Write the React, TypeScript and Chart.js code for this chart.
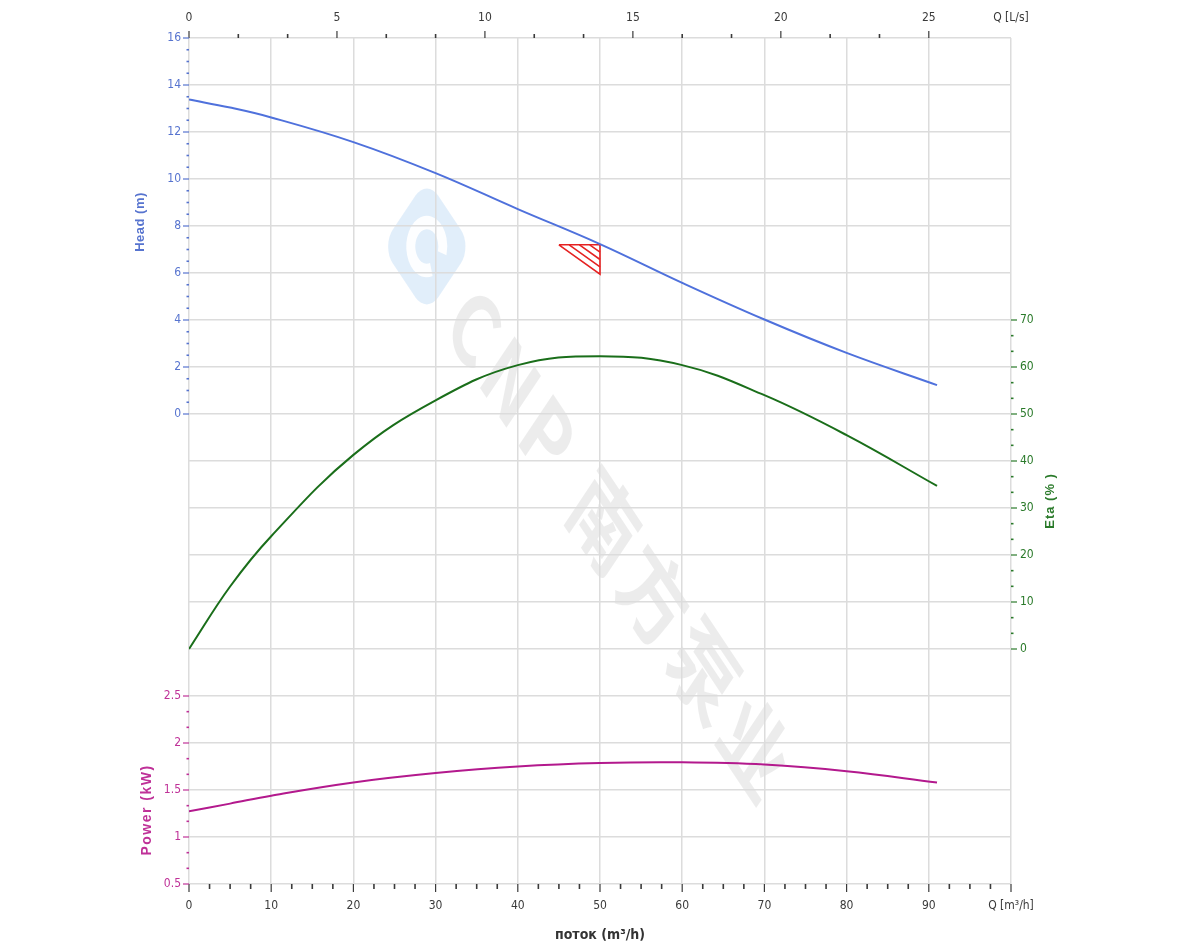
import React, { useEffect, useRef } from 'react';
import { Chart, registerables } from 'chart.js';

Chart.register(...registerables);

// ---------------- data ----------------
const flowQ = [0, 5, 10, 20, 30, 40, 50, 60, 70, 80, 91]; // m³/h
const headM = [13.38, 13.04, 12.62, 11.57, 10.25, 8.72, 7.23, 5.58, 4.02, 2.6, 1.23];
const etaPct = [0, 13.3, 24.0, 41.3, 52.9, 60.4, 62.3, 60.4, 54.0, 45.5, 34.7];
const powerKW = [1.273, 1.355, 1.44, 1.58, 1.68, 1.75, 1.787, 1.794, 1.77, 1.7, 1.58];

// duty-point triangle (flow span, head span)
const dutyFlow = [45, 50];
const dutyHead = [5.95, 7.2];
const dutyHatch = [0.25, 0.5, 0.75];

// tick labels
const flowLabelsM3h = [0, 10, 20, 30, 40, 50, 60, 70, 80, 90];
const flowLabelsLs = [0, 5, 10, 15, 20, 25];
const headLabels = [0, 2, 4, 6, 8, 10, 12, 14, 16];
const etaLabels = [0, 10, 20, 30, 40, 50, 60, 70];
const powerLabels = [0.5, 1, 1.5, 2, 2.5];
const flowUnitLabel = 'Q [m³/h]';
const flowLsUnitLabel = 'Q [L/s]';
const xTitle = 'поток (m³/h)';
const headTitle = 'Head (m)';
const etaTitle = 'Eta (% )';
const powerTitle = 'Power (kW)';
const watermark = 'CNP 南方泵业';

// axis bounds
const X_MAX = 100;
const M3H_PER_LS = 3.6;
const HEAD_MIN = -20, HEAD_MAX = 16;
const ETA_MIN = -50, ETA_MAX = 130;
const POWER_MIN = 0.5, POWER_MAX = 9.5;

// ---------------- styles ----------------
const GRID = '#dcdcdc';
const HEAD_COLOR = '#4f71dc';
const HEAD_TEXT = '#5774cf';
const ETA_COLOR = '#1a6e1a';
const ETA_TEXT = '#2a7a2a';
const POWER_COLOR = '#b3198d';
const POWER_TEXT = '#bf3198';
const AXIS_TEXT = '#444';
const DUTY_COLOR = '#e52222';
const TICK_FONT = "'Liberation Sans Narrow', 'DejaVu Sans Condensed', 'Liberation Sans', sans-serif";
const TITLE_FONT = "'Liberation Sans', Arial, sans-serif";

type TickMeta = { value: number; label: string; grid: boolean; mark: 0 | 1 | 2; color: string };

function buildTicks(majors: number[], sub: number, grid: boolean, color: string, map = (v: number) => v): TickMeta[] {
  const out: TickMeta[] = [];
  majors.forEach((v, i) => {
    out.push({ value: map(v), label: String(v), grid, mark: 2, color });
    if (i < majors.length - 1) {
      const next = majors[i + 1];
      for (let k = 1; k < sub; k++) {
        out.push({ value: map(v + ((next - v) * k) / sub), label: '', grid: false, mark: 1, color });
      }
    }
  });
  return out;
}

// power values expressed on the (shared, full-height) left head scale
const powerToHead = (p: number) =>
  HEAD_MIN + ((p - POWER_MIN) / (POWER_MAX - POWER_MIN)) * (HEAD_MAX - HEAD_MIN);

const xMeta: TickMeta[] = buildTicks([...flowLabelsM3h, X_MAX], 4, true, '#3a3a3a').map((t) =>
  t.value === X_MAX ? { ...t, label: flowUnitLabel } : t
);
const xTopMeta: TickMeta[] = [
  ...buildTicks(flowLabelsLs, 3, false, '#3a3a3a'),
  { value: X_MAX / M3H_PER_LS, label: flowLsUnitLabel, grid: false, mark: 0, color: '#3a3a3a' },
];
const leftMeta: TickMeta[] = [];
const powerTicks = buildTicks(powerLabels, 3, false, POWER_TEXT, powerToHead);
for (let v = HEAD_MIN; v < headLabels[0]; v += 2) leftMeta.push({ value: v, label: '', grid: true, mark: 0, color: HEAD_TEXT });
powerTicks.forEach((t) => {
  const same = leftMeta.find((m) => Math.abs(m.value - t.value) < 1e-9);
  if (same) Object.assign(same, { label: t.label, mark: t.mark, color: t.color });
  else leftMeta.push(t);
});
leftMeta.push(...buildTicks(headLabels, 4, true, HEAD_TEXT));
leftMeta.sort((a, b) => a.value - b.value);
const etaMeta: TickMeta[] = buildTicks(etaLabels, 3, false, ETA_TEXT);

const metaById: Record<string, TickMeta[]> = {
  x: xMeta,
  xTop: xTopMeta,
  yHead: leftMeta,
  yEta: etaMeta,
};

const markSpec: Record<string, { side: string; major: number; minor: number }> = {
  x: { side: 'bottom', major: 8, minor: 5 },
  xTop: { side: 'top', major: 7, minor: 4 },
  yHead: { side: 'left', major: 6, minor: 2.5 },
  yEta: { side: 'right', major: 6, minor: 2.5 },
};

const pts = (ys: number[]) => flowQ.map((q, i) => ({ x: q, y: ys[i] }));

const trianglePts = [
  { x: dutyFlow[0], y: dutyHead[1] },
  { x: dutyFlow[1], y: dutyHead[1] },
  { x: dutyFlow[1], y: dutyHead[0] },
  { x: dutyFlow[0], y: dutyHead[1] },
];
const hatchPts: any[] = [];
dutyHatch.forEach((f) => {
  hatchPts.push({ x: dutyFlow[0] + f * (dutyFlow[1] - dutyFlow[0]), y: dutyHead[1] });
  hatchPts.push({ x: dutyFlow[1], y: dutyHead[1] - (1 - f) * (dutyHead[1] - dutyHead[0]) });
  hatchPts.push({ x: dutyFlow[1], y: null });
});

const AXIS_SIZE: Record<string, number> = { x: 40, xTop: 36, yHead: 50, yEta: 50 };

function scaleFor(id: string, extra: any) {
  const meta = metaById[id];
  const vertical = id.startsWith('y');
  return {
    type: 'linear',
    afterBuildTicks: (axis: any) => {
      axis.ticks = meta.map((m) => ({ value: m.value }));
    },
    afterFit: (axis: any) => {
      if (vertical) axis.width = AXIS_SIZE[id];
      else axis.height = AXIS_SIZE[id];
    },
    border: { display: false },
    ...extra,
    ticks: {
      autoSkip: false,
      maxRotation: 0,
      minRotation: 0,
      callback: (_v: any, i: number) => (meta[i] ? meta[i].label : ''),
      color: (ctx: any) => (meta[ctx.index] ? meta[ctx.index].color : AXIS_TEXT),
      ...extra.ticks,
    },
    grid: {
      drawTicks: false,
      lineWidth: 1.5,
      color: (ctx: any) => (meta[ctx.index] && meta[ctx.index].grid ? GRID : 'rgba(0,0,0,0)'),
      ...extra.grid,
    },
  };
}

function drawRotated(ctx: CanvasRenderingContext2D, text: string, x: number, y: number, font: string, color: string, spacing: string) {
  ctx.save();
  ctx.translate(x, y);
  ctx.rotate(-Math.PI / 2);
  ctx.font = font;
  ctx.fillStyle = color;
  (ctx as any).letterSpacing = spacing;
  ctx.textAlign = 'center';
  ctx.textBaseline = 'middle';
  ctx.fillText(text, 0, 0);
  ctx.restore();
}

const decorPlugin = {
  id: 'decor',
  beforeDraw(chart: any) {
    const ctx: CanvasRenderingContext2D = chart.ctx;
    const a = chart.chartArea;
    ctx.save();
    const cx = a.left + (a.right - a.left) * 0.525;
    const cy = a.top + (a.bottom - a.top) * 0.6;
    ctx.translate(cx, cy);
    ctx.scale(1, 1.5);
    ctx.rotate(Math.PI / 4);
    ctx.font = "bold 66px 'Noto Sans CJK SC', 'Liberation Sans', sans-serif";
    ctx.fillStyle = 'rgba(0,0,0,0.075)';
    (ctx as any).letterSpacing = '5px';
    ctx.textAlign = 'center';
    ctx.textBaseline = 'middle';
    ctx.fillText(watermark, 0, 0);
    // logo
    ctx.translate(-278, -4);
    ctx.fillStyle = 'rgba(90,160,225,0.18)';
    ctx.beginPath();
    (ctx as any).roundRect(-32, -32, 64, 64, 16);
    ctx.fill();
    ctx.strokeStyle = 'rgba(255,255,255,0.95)';
    ctx.lineWidth = 9;
    ctx.beginPath();
    ctx.arc(0, 0, 16, 0.5, Math.PI * 2 - 0.5);
    ctx.stroke();
    ctx.restore();
  },
  afterDraw(chart: any) {
    const ctx: CanvasRenderingContext2D = chart.ctx;
    const a = chart.chartArea;
    // tick marks
    Object.keys(markSpec).forEach((id) => {
      const s = chart.scales[id];
      const spec = markSpec[id];
      if (!s) return;
      ctx.save();
      metaById[id].forEach((m) => {
        if (!m.mark) return;
        const p = s.getPixelForValue(m.value);
        const len = m.mark === 2 ? spec.major : spec.minor;
        ctx.strokeStyle = m.color;
        ctx.lineWidth = m.mark === 2 ? 1.2 : 1.6;
        ctx.beginPath();
        if (spec.side === 'bottom') {
          ctx.moveTo(p, a.bottom);
          ctx.lineTo(p, a.bottom + len);
        } else if (spec.side === 'top') {
          ctx.moveTo(p, a.top);
          ctx.lineTo(p, a.top - len);
        } else if (spec.side === 'left') {
          ctx.moveTo(a.left - len, p);
          ctx.lineTo(a.left, p);
        } else {
          ctx.moveTo(a.right, p);
          ctx.lineTo(a.right + len, p);
        }
        ctx.stroke();
      });
      ctx.restore();
    });
    // axis titles
    const yH = chart.scales.yHead;
    const yE = chart.scales.yEta;
    const yP = chart.scales.yPower;
    drawRotated(ctx, headTitle, a.left - 49, yH.getPixelForValue(8) - 4, `bold 13px ${TITLE_FONT}`, HEAD_TEXT, '0.5px');
    drawRotated(ctx, powerTitle, a.left - 42, yP.getPixelForValue(1.5) + 20, `bold 14px ${TITLE_FONT}`, POWER_TEXT, '1.5px');
    drawRotated(ctx, etaTitle, a.right + 39, yE.getPixelForValue(31.5), `bold 13px ${TITLE_FONT}`, ETA_TEXT, '1px');
    ctx.save();
    ctx.font = `bold 14px ${TICK_FONT}`;
    ctx.fillStyle = '#333';
    ctx.textAlign = 'center';
    ctx.textBaseline = 'middle';
    ctx.fillText(xTitle, (a.left + a.right) / 2, a.bottom + 51);
    ctx.restore();
  },
};

export default function App() {
  const ref = useRef<HTMLCanvasElement>(null);
  useEffect(() => {
    if (!ref.current) return;
    const tickFont = { family: TICK_FONT, size: 12 };
    const lineBase = { borderWidth: 2, pointRadius: 0, tension: 0.4 };
    const chart = new Chart(ref.current, {
      type: 'line',
      data: {
        datasets: [
          { label: 'Head', data: pts(headM), yAxisID: 'yHead', borderColor: HEAD_COLOR, ...lineBase },
          { label: 'Eta', data: pts(etaPct), yAxisID: 'yEta', borderColor: ETA_COLOR, ...lineBase },
          { label: 'Power', data: pts(powerKW), yAxisID: 'yPower', borderColor: POWER_COLOR, ...lineBase },
          {
            label: 'Duty',
            data: trianglePts,
            yAxisID: 'yHead',
            borderColor: DUTY_COLOR,
            borderWidth: 1.6,
            pointRadius: 0,
            tension: 0,
          },
          {
            label: 'DutyHatch',
            data: hatchPts,
            yAxisID: 'yHead',
            borderColor: DUTY_COLOR,
            borderWidth: 1.6,
            pointRadius: 0,
            tension: 0,
            spanGaps: false,
          },
        ] as any,
      },
      options: {
        responsive: false,
        animation: false,
        devicePixelRatio: 1,
        layout: {
          padding: {
            left: 189 - AXIS_SIZE.yHead,
            right: 1200 - 1011 - AXIS_SIZE.yEta,
            top: 38 - AXIS_SIZE.xTop,
            bottom: 950 - 884 - AXIS_SIZE.x,
          },
        },
        plugins: { legend: { display: false }, tooltip: { enabled: false } },
        scales: {
          x: scaleFor('x', {
            position: 'bottom',
            min: 0,
            max: X_MAX,
            ticks: { padding: 15, font: tickFont },
          }),
          xTop: scaleFor('xTop', {
            position: 'top',
            min: 0,
            max: X_MAX / M3H_PER_LS,
            ticks: { padding: 13, font: tickFont },
            grid: { display: false },
          }),
          yHead: scaleFor('yHead', {
            position: 'left',
            min: HEAD_MIN,
            max: HEAD_MAX,
            ticks: { padding: 8, font: tickFont },
          }),
          yPower: { type: 'linear', display: false, min: POWER_MIN, max: POWER_MAX },
          yEta: scaleFor('yEta', {
            position: 'right',
            min: ETA_MIN,
            max: ETA_MAX,
            ticks: { padding: 9, font: tickFont },
            grid: { display: false },
          }),
        } as any,
      },
      plugins: [decorPlugin],
    } as any);
    return () => chart.destroy();
  }, []);
  return (
    <div style={{ position: 'fixed', left: 0, top: 0, width: 1200, height: 950, background: '#fff' }}>
      <canvas ref={ref} width={1200} height={950} style={{ display: 'block', width: 1200, height: 950 }} />
    </div>
  );
}
